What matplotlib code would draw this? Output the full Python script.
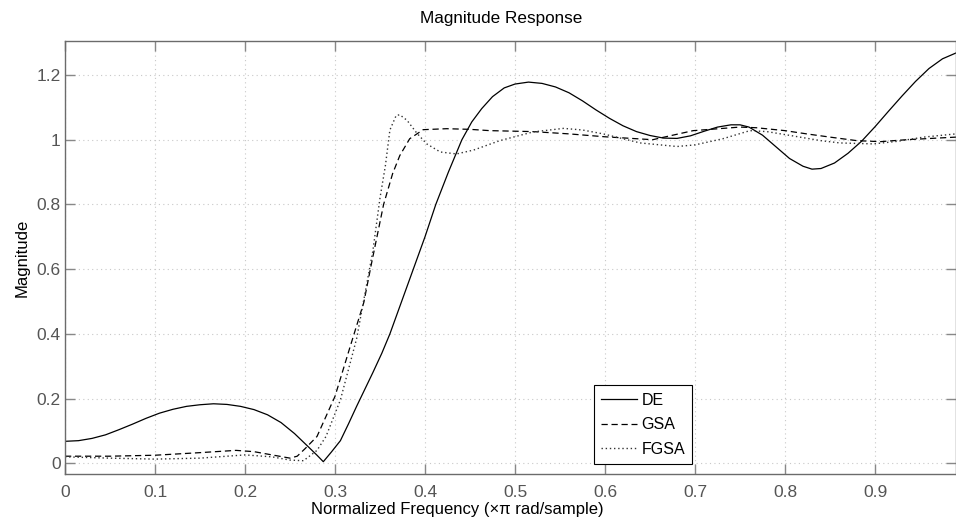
import matplotlib as mpl

mpl.use("Agg")

import matplotlib.pyplot as plt

# values
de_x = [0.00, 0.015, 0.03, 0.045, 0.06, 0.075, 0.09, 0.105, 0.12, 0.135, 0.15, 0.165, 0.18,
        0.195, 0.21, 0.225, 0.24, 0.255, 0.27, 0.28, 0.287, 0.296, 0.306, 0.315, 0.324, 0.333,
        0.342, 0.352, 0.361, 0.374, 0.387, 0.400, 0.412, 0.426, 0.441, 0.452, 0.463, 0.475,
        0.488, 0.50, 0.515, 0.53, 0.545, 0.56, 0.575, 0.59, 0.605, 0.62, 0.635, 0.65, 0.665,
        0.68, 0.695, 0.71, 0.725, 0.74, 0.75, 0.76, 0.775, 0.79, 0.805, 0.82, 0.83, 0.84,
        0.855, 0.87, 0.885, 0.90, 0.915, 0.93, 0.945, 0.96, 0.975, 0.99]
de_y = [0.068, 0.070, 0.077, 0.088, 0.104, 0.121, 0.139, 0.155, 0.167, 0.176, 0.181, 0.184, 0.182,
        0.176, 0.166, 0.150, 0.126, 0.092, 0.052, 0.025, 0.005, 0.035, 0.070, 0.122, 0.176, 0.228,
        0.280, 0.340, 0.400, 0.500, 0.600, 0.700, 0.800, 0.900, 1.000, 1.055, 1.096, 1.133,
        1.160, 1.172, 1.178, 1.174, 1.163, 1.145, 1.120, 1.092, 1.066, 1.043, 1.025, 1.013, 1.005,
        1.004, 1.012, 1.026, 1.039, 1.046, 1.046, 1.039, 1.014, 0.978, 0.942, 0.918, 0.909, 0.911,
        0.928, 0.958, 0.995, 1.040, 1.088, 1.135, 1.180, 1.220, 1.250, 1.268]

gsa_x = [0.00, 0.05, 0.10, 0.15, 0.19, 0.21, 0.232, 0.25, 0.258, 0.267, 0.28, 0.30, 0.317,
         0.332, 0.340, 0.354, 0.364, 0.372, 0.383, 0.398, 0.424, 0.45, 0.472, 0.52, 0.56, 0.60,
         0.653, 0.677, 0.698, 0.75, 0.768, 0.80, 0.824, 0.85, 0.88, 0.906, 0.935, 0.99]
gsa_y = [0.022, 0.022, 0.025, 0.033, 0.040, 0.036, 0.025, 0.016, 0.022, 0.046, 0.083, 0.207, 0.362,
         0.497, 0.610, 0.800, 0.895, 0.951, 1.003, 1.031, 1.034, 1.032, 1.028, 1.025, 1.018, 1.009,
         1.000, 1.015, 1.028, 1.039, 1.037, 1.028, 1.018, 1.008, 0.997, 0.994, 1.000, 1.008]

fgsa_x = [0.00, 0.05, 0.10, 0.15, 0.20, 0.23, 0.25, 0.265, 0.28, 0.29, 0.306, 0.324, 0.335,
          0.342, 0.350, 0.356, 0.361, 0.368, 0.372, 0.38, 0.391, 0.402, 0.417, 0.435, 0.454,
          0.483, 0.52, 0.554, 0.575, 0.598, 0.639, 0.68, 0.70, 0.731, 0.761, 0.78, 0.806,
          0.84, 0.861, 0.898, 0.925, 0.954, 0.99]
fgsa_y = [0.020, 0.016, 0.013, 0.016, 0.026, 0.020, 0.010, 0.008, 0.040, 0.083, 0.196, 0.385, 0.550,
          0.655, 0.820, 0.920, 1.030, 1.075, 1.077, 1.060, 1.020, 0.987, 0.962, 0.956, 0.968,
          0.997, 1.024, 1.035, 1.030, 1.018, 0.990, 0.979, 0.984, 1.003, 1.028, 1.025, 1.013,
          0.997, 0.990, 0.987, 0.995, 1.008, 1.018]

x_ticks = [0, 0.1, 0.2, 0.3, 0.4, 0.5, 0.6, 0.7, 0.8, 0.9]
y_ticks = [0, 0.2, 0.4, 0.6, 0.8, 1.0, 1.2]

plt.rcParams["font.family"] = ["Liberation Sans", "DejaVu Sans"]

fig = plt.figure(figsize=(9.56, 5.2), dpi=100)
ax = fig.add_axes([65 / 956, 46 / 520, 891 / 956, 433 / 520])

ax.plot(de_x, de_y, color="black", linewidth=0.9, linestyle="-", label="DE")
ax.plot(gsa_x, gsa_y, color="black", linewidth=0.9, linestyle=(0, (5, 3)), label="GSA")
ax.plot(fgsa_x, fgsa_y, color="#333333", linewidth=1.0, linestyle=(0, (1, 2)), label="FGSA")

ax.set_xlim(0, 0.99)
ax.set_ylim(-0.033, 1.305)
ax.set_xticks(x_ticks)
ax.set_yticks(y_ticks)
ax.set_xticklabels([f"{v:g}" for v in x_ticks])
ax.set_yticklabels([f"{v:g}" for v in y_ticks])

for side in ax.spines.values():
    side.set_color("#6b6b6b")
    side.set_linewidth(1.0)
ax.tick_params(direction="in", length=7, width=1.0, color="#888888", labelcolor="#555555",
               labelsize=12.5, top=True, right=True)
ax.tick_params(axis="x", pad=8)
ax.tick_params(axis="y", pad=3)
ax.grid(True, color="#c8c8c8", linestyle=(0, (1, 3)), linewidth=0.8)

ax.set_title("Magnitude Response", fontsize=12.3, pad=13, x=0.49)
ax.set_xlabel("Normalized Frequency (\u00d7\u03c0 rad/sample)", fontsize=12)
ax.xaxis.set_label_coords(0.44, -0.065)
ax.set_ylabel("Magnitude", fontsize=12, labelpad=5)

leg = ax.legend(loc="lower left", bbox_to_anchor=(0.594, 0.023), borderaxespad=0,
                fontsize=11.5, handlelength=2.2, handletextpad=0.3, labelspacing=0.6,
                borderpad=0.45, fancybox=False, framealpha=1)
leg.get_frame().set_edgecolor("black")
leg.get_frame().set_linewidth(0.8)

fig.savefig("out.png", dpi=100, facecolor="white")
